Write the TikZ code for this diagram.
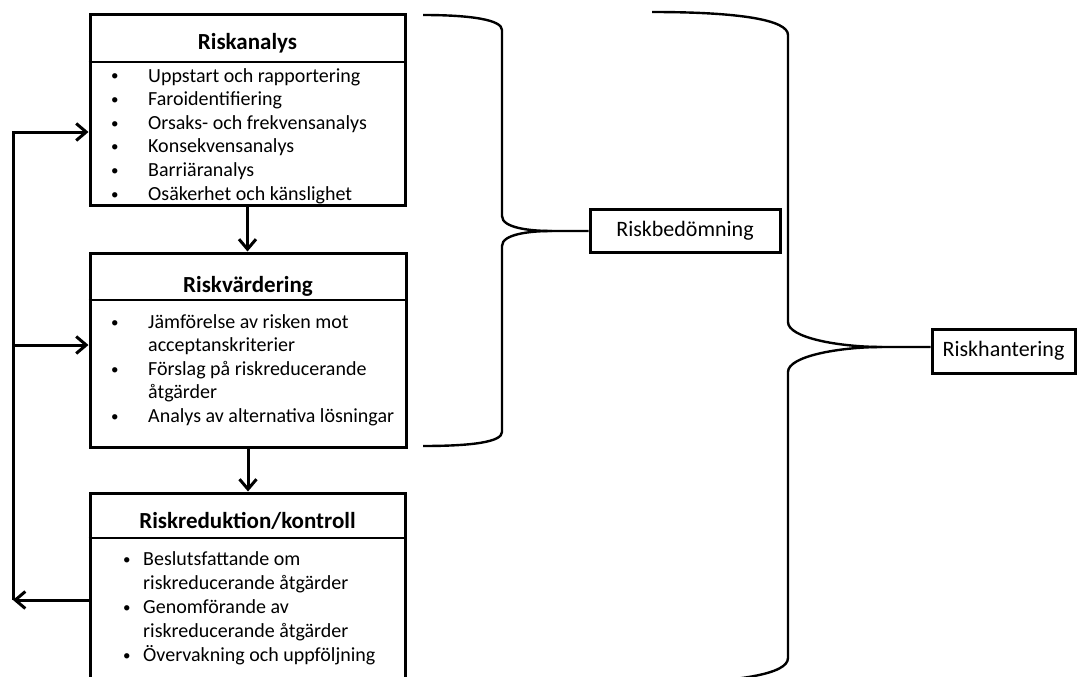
\documentclass[tikz,border=0pt]{standalone}
\usepackage{fontspec}
\setmainfont{Carlito}
\usetikzlibrary{arrows.meta}
\begin{document}
\begin{tikzpicture}[x=1pt,y=-1pt,
  box/.style={draw,line width=3pt,rectangle,inner sep=0pt},
  sep/.style={line width=2.6pt},
  hdr/.style={font=\fontsize{23}{28}\selectfont\bfseries,anchor=base,inner sep=0pt},
  itm/.style={font=\fontsize{20}{24}\selectfont,anchor=base west,inner sep=0pt},
  bul/.style={font=\fontsize{15}{24}\selectfont,anchor=base west,inner sep=0pt},
  lbl/.style={draw,line width=3pt,font=\fontsize{22}{26}\selectfont,inner sep=0pt},
  arr/.style={line width=3pt,-{Straight Barb[length=10pt,width=17pt]}},
  brace/.style={line width=2.4pt}]
\path[use as bounding box] (0,0) rectangle (1077,677);
\clip (0,0) rectangle (1077,677);

% boxes
\node[box,minimum width=315pt,minimum height=190pt] (b1) at (247.5,110) {};
\node[box,minimum width=316pt,minimum height=194pt] (b2) at (248,350) {};
\node[box,minimum width=315pt,minimum height=207pt] (b3) at (247.5,596.5) {};

\coordinate (h1) at (0,62);
\coordinate (h2) at (0,300);
\coordinate (h3) at (0,538);
\draw[sep] (b1.west|-h1) -- (b1.east|-h1);
\draw[sep] (b2.west|-h2) -- (b2.east|-h2);
\draw[sep] (b3.west|-h3) -- (b3.east|-h3);

\node[hdr] (t1) at (247.5,50) {Riskanalys};
\node[hdr] (t2) at (248,292) {Riskvärdering};
\node[hdr] (t3) at (247.5,528) {Riskreduktion/kontroll};

\foreach \y/\t [count=\i] in {82/Uppstart och rapportering,105.6/Faroidentifiering,129.2/Orsaks- och frekvensanalys,152.8/Konsekvensanalys,176.4/Barriäranalys,200/Osäkerhet och känslighet}{
  \node[bul] (ab\i) at (111,\y-1) {•};
  \node[itm] (ai\i) at (148,\y) {\t};
}
\foreach \y [count=\i] in {328,375,422}{
  \node[bul] (bb\i) at (111,\y-1) {•};
}
\foreach \y/\t [count=\i] in {328/Jämförelse av risken mot,351.5/acceptanskriterier,375/Förslag på riskreducerande,398.5/åtgärder,422/Analys av alternativa lösningar}{
  \node[itm] (bi\i) at (148,\y) {\t};
}
\foreach \y [count=\i] in {565,613,661}{
  \node[bul] (cb\i) at (123,\y-1) {•};
}
\foreach \y/\t [count=\i] in {565/Beslutsfattande om,589/riskreducerande åtgärder,613/Genomförande av,637/riskreducerande åtgärder,661/Övervakning och uppföljning}{
  \node[itm] (ci\i) at (143,\y) {\t};
}

% downward arrows
\draw[arr] (b1.south) -- (b1.south|-b2.north);
\draw[arr] (b2.south) -- (b2.south|-b3.north);

% feedback loop
\coordinate (fbb) at (13,600);
\coordinate (fbt) at (13,132);
\coordinate (fbm) at (13,345);
\draw[arr] (b3.west|-fbb) -- (fbb);
\draw[arr] (fbb) -- (fbt) -- (b1.west|-fbt);
\draw[arr] (fbm) -- (b2.west|-fbm);

% labels
\node[lbl,minimum width=190pt,minimum height=43pt] (rb) at (685,230.5) {Riskbedömning};
\node[lbl,minimum width=143pt,minimum height=44pt] (rh) at (1003.5,351) {Riskhantering};

% brace 1
\coordinate (rbtip) at (552,231);
\coordinate (rbtop) at (423,15);
\coordinate (rbbot) at (423,446);
\draw[brace] (rbtop) .. controls (472,15) and (502,20) .. (502,30) -- (502,216)
  .. controls (502,228) and (530,231) .. (rbtip) -- (rb.west|-rbtip);
\draw[brace] (rbtip) .. controls (530,231) and (502,234) .. (502,246) -- (502,432)
  .. controls (502,442) and (472,446) .. (rbbot);

% brace 2
\coordinate (rhtip) at (882,347);
\coordinate (rhtop) at (652,12);
\coordinate (rhbot) at (652,684);
\draw[brace] (rhtop) .. controls (740,12) and (788,20) .. (788,35) -- (788,322)
  .. controls (788,338) and (840,347) .. (rhtip) -- (rh.west|-rhtip);
\draw[brace] (rhtip) .. controls (840,347) and (788,356) .. (788,372) -- (788,658)
  .. controls (788,674) and (740,682) .. (rhbot);
\end{tikzpicture}
\end{document}
